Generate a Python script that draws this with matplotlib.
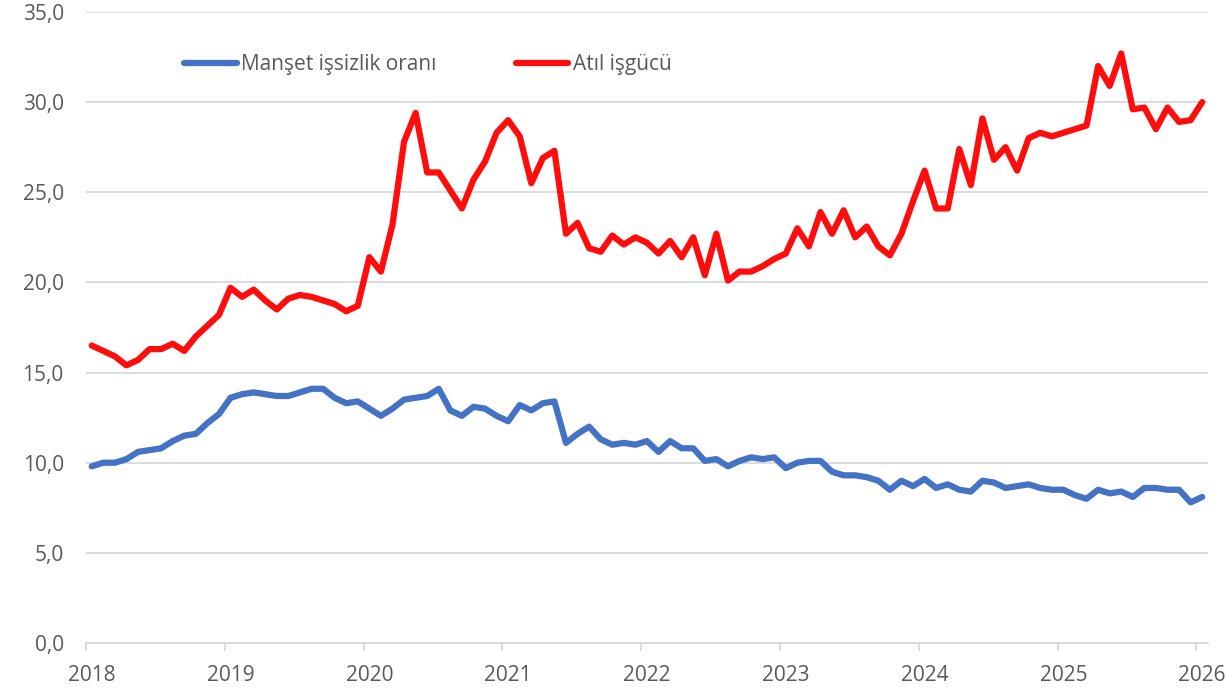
import numpy as np
import matplotlib
matplotlib.use("Agg")
import matplotlib.pyplot as plt
from matplotlib.ticker import FuncFormatter

# Aylik veriler, Ocak 2018 - Ocak 2026
baslangic_yil = 2018
issizlik = [9.8, 10.0, 10.0, 10.2, 10.6, 10.7, 10.8, 11.2, 11.5, 11.6, 12.2, 12.7,
            13.6, 13.8, 13.9, 13.8, 13.7, 13.7, 13.9, 14.1, 14.1, 13.6, 13.3, 13.4,
            13.0, 12.6, 13.0, 13.5, 13.6, 13.7, 14.1, 12.9, 12.6, 13.1, 13.0, 12.6,
            12.3, 13.2, 12.9, 13.3, 13.4, 11.1, 11.6, 12.0, 11.3, 11.0, 11.1, 11.0,
            11.2, 10.6, 11.2, 10.8, 10.8, 10.1, 10.2, 9.8, 10.1, 10.3, 10.2, 10.3,
            9.7, 10.0, 10.1, 10.1, 9.5, 9.3, 9.3, 9.2, 9.0, 8.5, 9.0, 8.7,
            9.1, 8.6, 8.8, 8.5, 8.4, 9.0, 8.9, 8.6, 8.7, 8.8, 8.6, 8.5,
            8.5, 8.2, 8.0, 8.5, 8.3, 8.4, 8.1, 8.6, 8.6, 8.5, 8.5, 7.8,
            8.1]
atil_isgucu = [16.5, 16.2, 15.9, 15.4, 15.7, 16.3, 16.3, 16.6, 16.2, 17.0, 17.6, 18.2,
               19.7, 19.2, 19.6, 19.0, 18.5, 19.1, 19.3, 19.2, 19.0, 18.8, 18.4, 18.7,
               21.4, 20.6, 23.2, 27.8, 29.4, 26.1, 26.1, 25.1, 24.1, 25.7, 26.7, 28.3,
               29.0, 28.1, 25.5, 26.9, 27.3, 22.7, 23.3, 21.9, 21.7, 22.6, 22.1, 22.5,
               22.2, 21.6, 22.3, 21.4, 22.5, 20.4, 22.7, 20.1, 20.6, 20.6, 20.9, 21.3,
               21.6, 23.0, 22.0, 23.9, 22.7, 24.0, 22.5, 23.1, 22.0, 21.5, 22.7, 24.5,
               26.2, 24.1, 24.1, 27.4, 25.4, 29.1, 26.8, 27.5, 26.2, 28.0, 28.3, 28.1,
               28.3, 28.5, 28.7, 32.0, 30.9, 32.7, 29.6, 29.7, 28.5, 29.7, 28.9, 29.0,
               30.0]
seri_adlari = ["Manşet işsizlik oranı", "Atıl işgücü"]
yillar = list(range(2018, 2027))

n = len(issizlik)
# her ay kendi araliginin ortasinda (Excel tarih ekseni gibi)
x = baslangic_yil + (np.arange(n) + 0.5) / 12.0

plt.rcParams['font.family'] = ['Open Sans', 'DejaVu Sans']
gri = '#595959'
fs = 15

fig = plt.figure(figsize=(12.26, 6.88), dpi=100)
ax = fig.add_axes([0.0701, 0.0654, 0.9152, 0.9172])

ax.plot(x, issizlik, color='#4472C4', lw=4.5, solid_joinstyle='round',
        solid_capstyle='round', label=seri_adlari[0])
ax.plot(x, atil_isgucu, color='#FF0D0D', lw=4.5, solid_joinstyle='round',
        solid_capstyle='round', label=seri_adlari[1])

ax.set_xlim(baslangic_yil, baslangic_yil + n / 12.0)
ax.set_ylim(0, 35)
ax.set_yticks(np.arange(0, 36, 5))
ax.yaxis.set_major_formatter(FuncFormatter(lambda v, p: f"{v:.1f}".replace('.', ',')))

# tik cizgileri yil basinda, etiketler Ocak ayinin ortasinda
ax.set_xticks(yillar)
ax.set_xticklabels([])
ax.set_xticks([y + 0.5 / 12 for y in yillar], minor=True)
ax.set_xticklabels([str(y) for y in yillar], minor=True)

ax.grid(axis='y', color='#d9d9d9', lw=1.3)
ax.set_axisbelow(True)
for s in ['left', 'right', 'top']:
    ax.spines[s].set_visible(False)
ax.spines['bottom'].set_color('#d9d9d9')
ax.spines['bottom'].set_linewidth(1.3)
ax.tick_params(axis='y', length=0, pad=16, labelsize=fs, labelcolor=gri)
ax.tick_params(axis='x', which='major', length=5.5, width=1.3, color='#d9d9d9')
ax.tick_params(axis='x', which='minor', length=0, pad=15.5, labelsize=fs, labelcolor=gri)

ax.legend(loc='center left', bbox_to_anchor=(0.0785, 0.916), ncol=2, frameon=False,
          borderpad=0, handlelength=2.5, handletextpad=0.2, columnspacing=3.85,
          fontsize=fs, labelcolor=gri)

fig.savefig('out.png', dpi=100)
